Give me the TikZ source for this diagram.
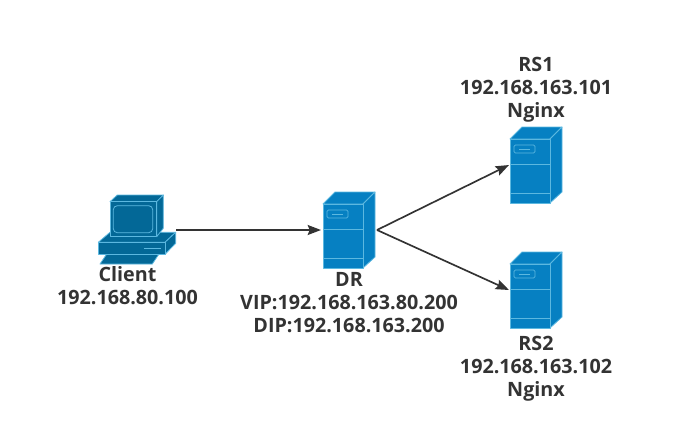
\documentclass[tikz,border=0pt]{standalone}
\usepackage{fontspec}
\setmainfont{Open Sans}
\usetikzlibrary{arrows.meta}

\definecolor{serverblue}{HTML}{0680C2}
\definecolor{clientblue}{HTML}{036897}
\definecolor{edgeblue}{HTML}{5CB8E0}
\definecolor{textgrey}{HTML}{333333}

\tikzset{
  hostbox/.style={inner sep=0pt, outer sep=0pt},
  hostlabel/.style={align=center, text=textgrey, font=\fontsize{14.8}{17.25}\selectfont\bfseries},
  link/.style={draw=textgrey, line width=1.25pt, -{Stealth[length=10pt,width=7.5pt,inset=1.5pt]}},
  server/.pic={
    \begin{scope}[draw=edgeblue, fill=serverblue, line width=.6pt, line join=round]
      \filldraw (-26,-26) -- (-14,-38) -- (26,-38) -- (14,-26) -- cycle;
      \filldraw (14,-26) -- (26,-38) -- (26,27) -- (14,38) -- cycle;
      \filldraw (-26,-26) rectangle (14,38);
      \draw (-26,-1) -- (14,-1);
      \draw (-26,28) -- (14,28);
      \draw[rounded corners=1pt] (-22,-20) rectangle (-1,-12);
      \draw (-17,-16) -- (-6,-16);
    \end{scope}
  },
  desktop/.pic={
    \begin{scope}[draw=edgeblue, fill=clientblue, line width=.6pt, line join=round]
      % keyboard
      \filldraw (-37,34) -- (-30.3,24) -- (22,24) -- (15.3,34) -- cycle;
      % base
      \filldraw (-38.7,12.3) -- (-27,2.3) -- (38.7,2.3) -- (28,12.3) -- cycle;
      \filldraw (28,12.3) -- (38.7,2.3) -- (38.7,13.3) -- (28,24.3) -- cycle;
      \filldraw (-38.7,12.3) rectangle (28,24.3);
      \draw (7.3,18.3) -- (24,18.3);
      % monitor
      \filldraw (-27,-28.3) -- (-19.7,-35) -- (26.3,-35) -- (19.7,-28.3) -- cycle;
      \filldraw (19.7,-28.3) -- (26.3,-35) -- (26.3,-1.7) -- (19.7,6.7) -- cycle;
      \filldraw (-27,-28.3) rectangle (19.7,6.7);
      \draw[rounded corners=3pt] (-23.7,-24.3) rectangle (15.7,2.7);
    \end{scope}
  }
}

\begin{document}
\begin{tikzpicture}[x=.75pt, y=-.75pt]

  \useasboundingbox (0,0) rectangle (685,436);

  \begin{scope}[every node/.style={hostbox}]
    \node[minimum width=58.5pt, minimum height=51pt] (client) at (137,230) {};
    \node[minimum width=39pt, minimum height=57.75pt] (dr)  at (349,230) {};
    \node[minimum width=39pt, minimum height=57.75pt] (rs1) at (536,165) {};
    \node[minimum width=39pt, minimum height=57.75pt] (rs2) at (536,290) {};
  \end{scope}

  \pic at (client.center) {desktop};
  \pic at (dr.center)     {server};
  \pic at (rs1.center)    {server};
  \pic at (rs2.center)    {server};

  \begin{scope}[every node/.style={hostlabel}]
    \node (clientlabel) at (127.5,286) {Client\\192.168.80.100};
    \node (drlabel)     at (349,303)   {DR\\VIP:192.168.163.80.200\\DIP:192.168.163.200};
    \node (rs1label)    at (536,89.5)  {RS1\\192.168.163.101\\Nginx};
    \node (rs2label)    at (536,368.5) {RS2\\192.168.163.102\\Nginx};
  \end{scope}

  \path[link] (client.east) -- ([xshift=-1.5pt]dr.west);
  \path[link] ([xshift=1.5pt]dr.east) -- ([xshift=-.75pt]rs1.west);
  \path[link] ([xshift=1.5pt]dr.east) -- ([xshift=-.75pt]rs2.west);

\end{tikzpicture}
\end{document}
